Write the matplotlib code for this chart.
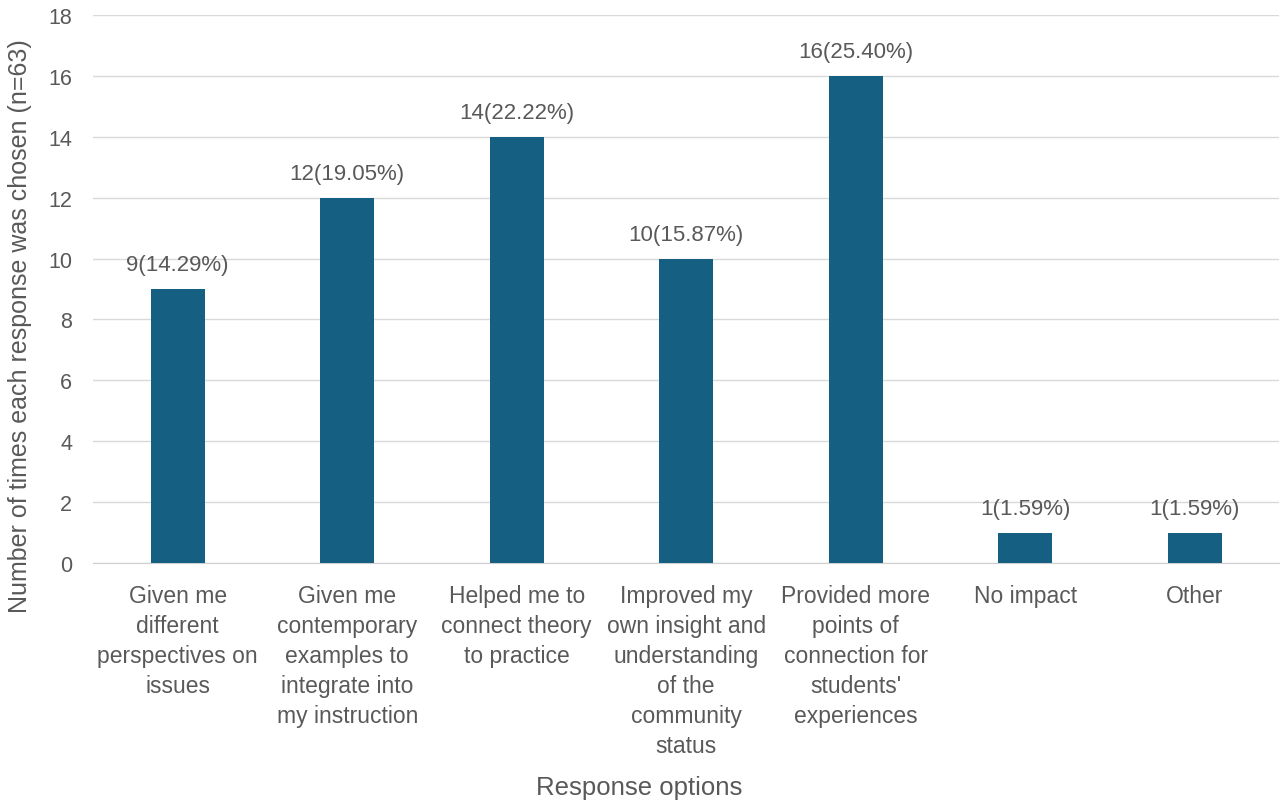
import matplotlib
matplotlib.use('Agg')
import matplotlib.pyplot as plt

# data
categories = [
    "Given me\ndifferent\nperspectives on\nissues",
    "Given me\ncontemporary\nexamples to\nintegrate into\nmy instruction",
    "Helped me to\nconnect theory\nto practice",
    "Improved my\nown insight and\nunderstanding\nof the\ncommunity\nstatus",
    "Provided more\npoints of\nconnection for\nstudents'\nexperiences",
    "No impact",
    "Other",
]
counts = [9, 12, 14, 10, 16, 1, 1]
labels = ["9(14.29%)", "12(19.05%)", "14(22.22%)", "10(15.87%)",
          "16(25.40%)", "1(1.59%)", "1(1.59%)"]
yticks = [0, 2, 4, 6, 8, 10, 12, 14, 16, 18]

plt.rcParams['font.family'] = ['Liberation Sans', 'DejaVu Sans']
txt = '#595959'

fig = plt.figure(figsize=(12.82, 8.04), dpi=100)
ax = fig.add_axes([0.0725, 0.2985, 0.9255, 0.6816])

x = list(range(len(categories)))
bars = ax.bar(x, counts, width=0.32, color='#156082', zorder=3)
for b, lab in zip(bars, labels):
    ax.text(b.get_x() + b.get_width() / 2, b.get_height() + 0.45, lab,
            ha='center', va='bottom', fontsize=16, color=txt)

ax.set_xlim(-0.5, len(categories) - 0.5)
ax.set_ylim(0, 18)
ax.set_yticks(yticks)
ax.set_xticks(x)
ax.set_xticklabels(categories, fontsize=16.5, color=txt, linespacing=1.39)
ax.tick_params(axis='y', labelsize=15.5, labelcolor=txt, length=0, pad=15)
ax.tick_params(axis='x', length=0, pad=15)
ax.grid(axis='y', color='#d9d9d9', linewidth=1, zorder=0)
for s in ['top', 'right', 'left']:
    ax.spines[s].set_visible(False)
ax.spines['bottom'].set_color('#d0d0d0')

# axis titles
fig.text(20 / 1282, 1 - 326 / 804, 'Number of times each response was chosen (n=63)',
         rotation=90, ha='center', va='center', fontsize=18, color=txt)
fig.text(639 / 1282, 1 - 788 / 804, 'Response options', ha='center', va='center',
         fontsize=18.5, color=txt)

fig.savefig('out.png', dpi=100)
